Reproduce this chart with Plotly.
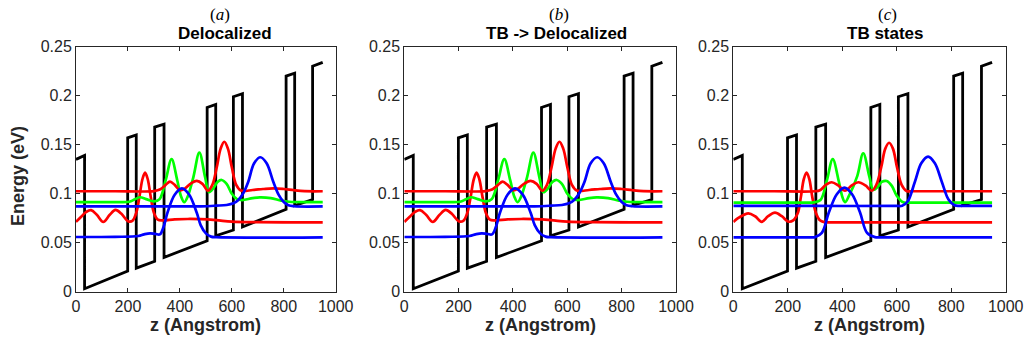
import plotly.graph_objects as go

W, H = 1025, 344

# ---------------- data ----------------
# conduction-band potential profile (corner points), z in Angstrom, energy in eV
pot_z = [0, 33, 33, 199, 199, 232, 232, 303, 303, 339, 339, 505, 505, 538, 538,
         606, 606, 641, 641, 809, 809, 842, 842, 911, 911, 950]
pot_E = [0.135, 0.139, 0.003, 0.021, 0.157, 0.160, 0.024, 0.031, 0.168, 0.171,
         0.035, 0.052, 0.188, 0.191, 0.057, 0.063, 0.199, 0.202, 0.066, 0.084,
         0.220, 0.223, 0.088, 0.094, 0.230, 0.234]

# delocalized states (panels a and b): |psi|^2 drawn offset at the level energy
deloc_rl_z = [0, 20, 40, 58, 80, 105, 130, 152, 175, 200, 217, 232, 244, 256, 266,
              276, 288, 300, 315, 335, 380, 430, 480, 540, 600, 700, 950]
deloc_rl_E = [0.0712, 0.0765, 0.0815, 0.0832, 0.0785, 0.0712, 0.0785, 0.0834, 0.0795,
              0.0720, 0.0723, 0.0805, 0.0965, 0.1150, 0.1215, 0.1150, 0.0965, 0.0805,
              0.0735, 0.0728, 0.0738, 0.0742, 0.0740, 0.0730, 0.0715, 0.0709, 0.0708]

deloc_ru_z = [0, 150, 300, 325, 345, 362, 380, 400, 420, 443, 465, 487, 508, 525,
              542, 557, 571, 585, 600, 617, 635, 680, 720, 760, 800, 840, 880, 950]
deloc_ru_E = [0.1025, 0.1025, 0.1027, 0.1045, 0.1090, 0.1123, 0.1090, 0.1035, 0.1055,
              0.1105, 0.1130, 0.1100, 0.1030, 0.1090, 0.1270, 0.1460, 0.1530, 0.1460,
              0.1270, 0.1090, 0.1032, 0.1038, 0.1048, 0.1055, 0.1048, 0.1035, 0.1026,
              0.1025]

deloc_g_z = [0, 150, 205, 225, 246, 270, 300, 322, 345, 368, 390, 405, 417, 430,
             452, 475, 497, 512, 530, 545, 561, 580, 600, 620, 640, 680, 708, 750,
             790, 820, 950]
deloc_g_E = [0.0915, 0.0915, 0.0918, 0.0940, 0.0964, 0.0945, 0.0922, 0.0945, 0.1135,
             0.1352, 0.1135, 0.0970, 0.0913, 0.0970, 0.1170, 0.1419, 0.1170, 0.1015,
             0.1060, 0.1120, 0.1140, 0.1100, 0.1000, 0.0945, 0.0935, 0.0955, 0.0962,
             0.0955, 0.0930, 0.0918, 0.0915]

deloc_bu_z = [0, 300, 480, 540, 580, 606, 625, 645, 663, 686, 710, 734, 760, 780,
              800, 818, 840, 950]
deloc_bu_E = [0.0870, 0.0870, 0.0871, 0.0878, 0.0885, 0.0902, 0.0935, 0.1010, 0.1120,
              0.1310, 0.1372, 0.1310, 0.1120, 0.0990, 0.0915, 0.0882, 0.0872, 0.0870]

deloc_bl_z = [0, 150, 240, 262, 285, 305, 323, 337, 352, 380, 408, 436, 465, 480,
              500, 520, 540, 950]
deloc_bl_E = [0.0558, 0.0560, 0.0568, 0.0585, 0.0596, 0.0590, 0.0585, 0.0660, 0.0805,
              0.0990, 0.1055, 0.0990, 0.0805, 0.0680, 0.0595, 0.0562, 0.0556, 0.0555]

# tight-binding states (panel c)
tb_rl_z = [0, 20, 55, 80, 104, 128, 153, 178, 202, 220, 237, 248, 259, 269, 279,
           290, 303, 318, 335, 355, 450, 950]
tb_rl_E = [0.0712, 0.0755, 0.0800, 0.0770, 0.0712, 0.0770, 0.0806, 0.0770, 0.0715,
           0.0728, 0.0805, 0.0965, 0.1150, 0.1215, 0.1150, 0.0965, 0.0805, 0.0728,
           0.0710, 0.0708, 0.0708, 0.0708]

tb_ru_z = [0, 150, 300, 318, 340, 361, 385, 410, 435, 459, 485, 508, 525, 543, 558,
           572, 586, 601, 618, 636, 655, 700, 950]
tb_ru_E = [0.1025, 0.1025, 0.1025, 0.1035, 0.1090, 0.1117, 0.1085, 0.1030, 0.1085,
           0.1117, 0.1085, 0.1030, 0.1090, 0.1270, 0.1460, 0.1520, 0.1460, 0.1270,
           0.1090, 0.1027, 0.1025, 0.1025, 0.1025]

tb_g_z = [0, 150, 275, 295, 320, 343, 365, 387, 400, 410, 425, 455, 477, 499, 514,
          530, 545, 563, 582, 600, 624, 645, 700, 950]
tb_g_E = [0.0909, 0.0909, 0.0909, 0.0911, 0.0935, 0.1130, 0.1352, 0.1130, 0.0970,
          0.0913, 0.0980, 0.1180, 0.1413, 0.1180, 0.1038, 0.1070, 0.1120, 0.1130,
          0.1080, 0.0980, 0.0912, 0.0909, 0.0909, 0.0909]

tb_bu_z = [0, 300, 600, 620, 640, 667, 690, 715, 740, 765, 790, 812, 830, 850, 950]
tb_bu_E = [0.0875, 0.0875, 0.0875, 0.0877, 0.0920, 0.1125, 0.1310, 0.1378, 0.1310,
           0.1125, 0.0940, 0.0882, 0.0876, 0.0875, 0.0875]

tb_bl_z = [0, 150, 280, 300, 325, 351, 380, 408, 436, 465, 491, 520, 545, 700, 950]
tb_bl_E = [0.0555, 0.0555, 0.0555, 0.0557, 0.0600, 0.0810, 0.0995, 0.1062, 0.0995,
           0.0810, 0.0600, 0.0557, 0.0555, 0.0555, 0.0555]

panel_letters = ["a", "b", "c"]
panel_titles = ["Delocalized", "TB -> Delocalized", "TB states"]
x_ticks = [0, 200, 400, 600, 800, 1000]
y_ticks = [0, 0.05, 0.1, 0.15, 0.2, 0.25]
y_ticktext = ["0", "0.05", "0.1", "0.15", "0.2", "0.25"]

# ---------------- layout geometry (pixels) ----------------
boxes = [(76.0, 335.7), (404.3, 676.0), (733.3, 1005.7)]
top_px, bot_px = 46.7, 291.7
title_x = [224.5, 556.7, 885.0]
letter_x = [220.0, 559.0, 887.5]

panels = [
    [(deloc_rl_z, deloc_rl_E, "#ff0000"), (deloc_g_z, deloc_g_E, "#00ff00"),
     (deloc_ru_z, deloc_ru_E, "#ff0000"), (deloc_bl_z, deloc_bl_E, "#0000ff"),
     (deloc_bu_z, deloc_bu_E, "#0000ff")],
    [(deloc_rl_z, deloc_rl_E, "#ff0000"), (deloc_g_z, deloc_g_E, "#00ff00"),
     (deloc_ru_z, deloc_ru_E, "#ff0000"), (deloc_bl_z, deloc_bl_E, "#0000ff"),
     (deloc_bu_z, deloc_bu_E, "#0000ff")],
    [(tb_rl_z, tb_rl_E, "#ff0000"), (tb_g_z, tb_g_E, "#00ff00"),
     (tb_ru_z, tb_ru_E, "#ff0000"), (tb_bl_z, tb_bl_E, "#0000ff"),
     (tb_bu_z, tb_bu_E, "#0000ff")],
]

fig = go.Figure()
tickfont = dict(family="Liberation Sans, Arial, sans-serif", size=16, color="#262626")

for i, curves in enumerate(panels):
    sfx = "" if i == 0 else str(i + 1)
    xa, ya = "x" + sfx, "y" + sfx
    fig.add_trace(go.Scatter(x=pot_z, y=pot_E, mode="lines", xaxis=xa, yaxis=ya,
                             line=dict(color="black", width=2.8), showlegend=False,
                             hoverinfo="skip"))
    for z, e, c in curves:
        fig.add_trace(go.Scatter(x=z, y=e, mode="lines", xaxis=xa, yaxis=ya,
                                 line=dict(color=c, width=2.7, shape="spline", smoothing=1.0),
                                 showlegend=False, hoverinfo="skip"))
    x0, x1 = boxes[i]
    common = dict(showgrid=False, zeroline=False, showline=True, mirror="ticks",
                  linecolor="#262626", linewidth=1, ticks="inside", ticklen=4,
                  tickcolor="#262626", tickfont=tickfont, automargin=False)
    fig.layout["xaxis" + sfx] = dict(domain=[x0 / W, x1 / W], range=[0, 1000],
                                     tickvals=x_ticks, anchor=ya, **common)
    fig.layout["yaxis" + sfx] = dict(domain=[1 - bot_px / H, 1 - top_px / H],
                                     range=[0, 0.25], tickvals=y_ticks,
                                     ticktext=y_ticktext, anchor=xa, **common)

annotations = []
for i in range(3):
    x0, x1 = boxes[i]
    annotations.append(dict(x=letter_x[i] / W, y=1 - 15 / H, xref="paper", yref="paper",
                            text="(<i>%s</i>)" % panel_letters[i], showarrow=False,
                            font=dict(family="Liberation Serif, serif", size=17, color="black"),
                            xanchor="center", yanchor="middle"))
    annotations.append(dict(x=title_x[i] / W, y=1 - 33.5 / H, xref="paper", yref="paper",
                            text="<b>%s</b>" % panel_titles[i], showarrow=False,
                            font=dict(family="Liberation Sans, Arial, sans-serif", size=17,
                                      color="black"),
                            xanchor="center", yanchor="middle"))
    annotations.append(dict(x=(x0 + x1) / 2 / W, y=1 - 325 / H, xref="paper", yref="paper",
                            text="<b>z (Angstrom)</b>", showarrow=False,
                            font=dict(family="Liberation Sans, Arial, sans-serif", size=18,
                                      color="#262626"),
                            xanchor="center", yanchor="middle"))
annotations.append(dict(x=18 / W, y=1 - 176 / H, xref="paper", yref="paper",
                        text="<b>Energy (eV)</b>", showarrow=False, textangle=-90,
                        font=dict(family="Liberation Sans, Arial, sans-serif", size=18,
                                  color="#262626"),
                        xanchor="center", yanchor="middle"))

fig.update_layout(width=W, height=H, autosize=False,
                  margin=dict(l=0, r=0, t=0, b=0, pad=0, autoexpand=False),
                  paper_bgcolor="white", plot_bgcolor="white",
                  hovermode=False,
                  annotations=annotations)

# remove the browser's default page margin so the figure sits at the window origin
fig.write_html("out.html",
               config={"displayModeBar": False, "staticPlot": True},
               post_script="document.body.style.margin='0';document.body.style.overflow='hidden';")
